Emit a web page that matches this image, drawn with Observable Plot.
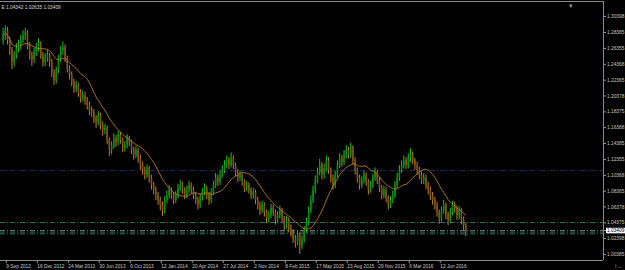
<!DOCTYPE html>
<html><head><meta charset="utf-8">
<script src="https://cdn.jsdelivr.net/npm/d3@7"></script>
<script src="https://cdn.jsdelivr.net/npm/@observablehq/plot@0.6"></script>
<style>html,body{margin:0;padding:0;background:#000;overflow:hidden}#chart{position:relative;width:625px;height:270px}</style>
</head><body><div id="chart"></div>
<script>
// Weekly bars, index 0 = week of 2 Sep 2012
const opens = [1.274,1.280,1.286,1.274,1.261,1.246,1.255,1.264,1.267,1.274,1.280,1.283,1.267,1.255,1.249,1.259,1.264,1.269,1.255,1.246,
1.251,1.255,1.246,1.233,1.223,1.236,1.251,1.261,1.265,1.251,1.238,1.230,1.221,1.213,1.217,1.208,1.201,1.204,1.198,1.192,
1.185,1.183,1.175,1.170,1.179,1.167,1.160,1.163,1.148,1.135,1.141,1.150,1.145,1.154,1.148,1.138,1.141,1.150,1.145,1.135,
1.129,1.135,1.125,1.116,1.110,1.104,1.112,1.100,1.091,1.085,1.078,1.072,1.066,1.059,1.072,1.078,1.085,1.078,1.072,1.078,
1.087,1.091,1.085,1.078,1.085,1.091,1.085,1.078,1.072,1.066,1.075,1.082,1.087,1.078,1.072,1.082,1.091,1.100,1.095,1.104,
1.110,1.116,1.122,1.116,1.125,1.116,1.107,1.100,1.104,1.095,1.087,1.091,1.085,1.078,1.082,1.072,1.066,1.059,1.066,1.057,
1.049,1.053,1.062,1.057,1.047,1.053,1.059,1.049,1.040,1.047,1.037,1.032,1.024,1.019,1.028,1.015,1.022,1.034,1.044,1.059,
1.072,1.085,1.097,1.107,1.116,1.104,1.112,1.122,1.110,1.100,1.091,1.104,1.116,1.125,1.120,1.129,1.135,1.129,1.138,1.122,
1.110,1.100,1.091,1.097,1.104,1.095,1.085,1.091,1.100,1.107,1.097,1.087,1.078,1.085,1.075,1.066,1.072,1.078,1.091,1.100,
1.110,1.116,1.122,1.116,1.125,1.129,1.122,1.116,1.110,1.104,1.097,1.100,1.091,1.085,1.078,1.072,1.066,1.057,1.049,1.059,
1.066,1.053,1.047,1.057,1.066,1.062,1.053,1.059,1.047,1.040];
const highs = [1.289,1.292,1.290,1.278,1.265,1.260,1.270,1.274,1.280,1.286,1.289,1.286,1.271,1.259,1.264,1.270,1.276,1.272,1.259,1.257,
1.261,1.258,1.250,1.237,1.240,1.255,1.266,1.272,1.268,1.254,1.242,1.234,1.225,1.222,1.220,1.212,1.210,1.208,1.202,1.196,
1.190,1.187,1.179,1.184,1.182,1.171,1.168,1.166,1.151,1.146,1.156,1.154,1.159,1.158,1.151,1.146,1.155,1.153,1.148,1.139,
1.140,1.138,1.129,1.120,1.114,1.117,1.115,1.104,1.095,1.089,1.082,1.076,1.070,1.077,1.084,1.091,1.088,1.082,1.083,1.092,
1.097,1.095,1.088,1.090,1.096,1.094,1.089,1.082,1.076,1.080,1.087,1.093,1.090,1.082,1.087,1.096,1.106,1.104,1.110,1.116,
1.122,1.128,1.126,1.132,1.128,1.119,1.111,1.109,1.107,1.098,1.096,1.094,1.088,1.087,1.085,1.076,1.070,1.071,1.069,1.060,
1.058,1.067,1.066,1.060,1.058,1.065,1.062,1.052,1.052,1.050,1.041,1.035,1.028,1.033,1.031,1.027,1.039,1.050,1.064,1.078,
1.090,1.103,1.113,1.124,1.120,1.118,1.128,1.126,1.113,1.104,1.109,1.122,1.131,1.129,1.135,1.141,1.139,1.144,1.141,1.126,
1.113,1.104,1.102,1.109,1.107,1.098,1.096,1.105,1.113,1.110,1.100,1.091,1.090,1.088,1.078,1.077,1.084,1.096,1.106,1.116,
1.122,1.128,1.126,1.131,1.137,1.133,1.125,1.120,1.114,1.108,1.106,1.104,1.095,1.089,1.082,1.076,1.070,1.060,1.064,1.072,
1.069,1.057,1.062,1.071,1.070,1.065,1.064,1.062,1.051,1.04342];
const lows = [1.268,1.274,1.268,1.255,1.237,1.240,1.250,1.258,1.262,1.270,1.274,1.262,1.249,1.241,1.245,1.254,1.259,1.250,1.240,1.241,
1.246,1.240,1.227,1.217,1.219,1.232,1.246,1.255,1.246,1.233,1.224,1.215,1.207,1.208,1.202,1.195,1.196,1.192,1.186,1.179,
1.177,1.169,1.163,1.166,1.161,1.153,1.155,1.142,1.128,1.130,1.137,1.139,1.141,1.143,1.132,1.133,1.137,1.140,1.130,1.123,
1.125,1.119,1.110,1.104,1.098,1.100,1.094,1.085,1.079,1.072,1.066,1.059,1.052,1.055,1.068,1.074,1.073,1.067,1.068,1.074,
1.083,1.080,1.073,1.074,1.081,1.080,1.073,1.067,1.060,1.062,1.071,1.078,1.073,1.066,1.068,1.078,1.087,1.090,1.091,1.100,
1.106,1.112,1.111,1.113,1.111,1.102,1.095,1.096,1.090,1.082,1.083,1.080,1.073,1.074,1.067,1.060,1.053,1.055,1.051,1.043,
1.044,1.049,1.052,1.041,1.043,1.049,1.044,1.034,1.036,1.031,1.026,1.018,1.012,1.015,1.004,1.010,1.018,1.030,1.040,1.055,
1.068,1.080,1.093,1.103,1.098,1.099,1.108,1.105,1.094,1.085,1.087,1.100,1.112,1.114,1.116,1.125,1.124,1.125,1.117,1.104,
1.094,1.085,1.087,1.093,1.090,1.079,1.081,1.087,1.096,1.092,1.082,1.073,1.074,1.069,1.060,1.062,1.068,1.074,1.087,1.096,
1.106,1.112,1.111,1.112,1.120,1.117,1.110,1.104,1.098,1.092,1.092,1.086,1.079,1.072,1.066,1.060,1.051,1.042,1.045,1.055,
1.048,1.040,1.043,1.053,1.056,1.047,1.048,1.041,1.034,1.02635];
const closes = [1.280,1.286,1.274,1.261,1.246,1.255,1.264,1.267,1.274,1.280,1.283,1.267,1.255,1.249,1.259,1.264,1.269,1.255,1.246,1.251,
1.255,1.246,1.233,1.223,1.236,1.251,1.261,1.265,1.251,1.238,1.230,1.221,1.213,1.217,1.208,1.201,1.204,1.198,1.192,1.185,
1.183,1.175,1.170,1.179,1.167,1.160,1.163,1.148,1.135,1.141,1.150,1.145,1.154,1.148,1.138,1.141,1.150,1.145,1.135,1.129,
1.135,1.125,1.116,1.110,1.104,1.112,1.100,1.091,1.085,1.078,1.072,1.066,1.059,1.072,1.078,1.085,1.078,1.072,1.078,1.087,
1.091,1.085,1.078,1.085,1.091,1.085,1.078,1.072,1.066,1.075,1.082,1.087,1.078,1.072,1.082,1.091,1.100,1.095,1.104,1.110,
1.116,1.122,1.116,1.125,1.116,1.107,1.100,1.104,1.095,1.087,1.091,1.085,1.078,1.082,1.072,1.066,1.059,1.066,1.057,1.049,
1.053,1.062,1.057,1.047,1.053,1.059,1.049,1.040,1.047,1.037,1.032,1.024,1.019,1.028,1.015,1.022,1.034,1.044,1.059,1.072,
1.085,1.097,1.107,1.116,1.104,1.112,1.122,1.110,1.100,1.091,1.104,1.116,1.125,1.120,1.129,1.135,1.129,1.138,1.122,1.110,
1.100,1.091,1.097,1.104,1.095,1.085,1.091,1.100,1.107,1.097,1.087,1.078,1.085,1.075,1.066,1.072,1.078,1.091,1.100,1.110,
1.116,1.122,1.116,1.125,1.129,1.122,1.116,1.110,1.104,1.097,1.100,1.091,1.085,1.078,1.072,1.066,1.057,1.049,1.059,1.066,
1.053,1.047,1.057,1.066,1.062,1.053,1.059,1.047,1.040,1.03409];

const xTickBars = [1,15,29,43,57,71,85,99,113,127,141,155,169,183,197];
const xTickLabels = ["9 Sep 2012","16 Dec 2012","24 Mar 2013","30 Jun 2013","6 Oct 2013","12 Jan 2014","20 Apr 2014","27 Jul 2014","2 Nov 2014","8 Feb 2015","17 May 2015","23 Aug 2015","29 Nov 2015","6 Mar 2016","12 Jun 2016"];
const yTickValues = [1.30398,1.28385,1.26355,1.24368,1.22365,1.20378,1.18375,1.16388,1.14385,1.12355,1.10368,1.08365,1.06378,1.04375,1.02398,1.00385];
const levelPrices = [1.1098,1.0442,1.0341,1.0322,1.0300];
const levelColors = ["#1c2a66","#1f7a5a","#6a7070","#2a6a6a","#1f7a5a"];
const headerText = "E 1.04342 1.02635 1.03409";
const maPeriod = 14;

const bars = closes.map((c,i)=>({i, open:opens[i], high:highs[i], low:lows[i], close:c}));
const upBars = bars.filter(d=>d.close>=d.open);
const downBars = bars.filter(d=>d.close<d.open);
const levels = levelPrices.map((p,i)=>({p, c:levelColors[i]}));
const lastClose = closes[closes.length-1];
const fmt = d3.format(".5f");

const W=625, H=270, mT=1, mB=10, mR=22, mL=0;
const pxPerBar = 2.214, firstBarX = 2.6;
const xDomain = [(0-firstBarX)/pxPerBar, (W-mR-firstBarX)/pxPerBar];
const pricePerPx = (1.30398-1.00385)/238;
const yDomain = [1.00385-(H-mB-254)*pricePerPx, 1.30398+(16-mT)*pricePerPx];
const font = "'Liberation Sans', Arial, sans-serif";
const fs = 4.8;

const plot = Plot.plot({
  width: W, height: H, marginTop: mT, marginBottom: mB, marginLeft: mL, marginRight: mR,
  style: {background:"#000", color:"#c8c8c8", fontFamily: font, fontSize: fs+"px"},
  x: {type:"linear", domain: xDomain, axis:null},
  y: {domain: yDomain, axis:null},
  marks: [
    ...levels.map(l => Plot.ruleY([l.p], {stroke:l.c, strokeWidth:1, strokeDasharray:"5,2,1,2"})),
    Plot.ruleX(upBars, {x:"i", y1:"low", y2:"high", stroke:"#1fc01f", strokeWidth:1}),
    Plot.ruleX(upBars, {x:"i", y1:"open", y2:"close", stroke:"#0d8a0d", strokeWidth:1.6}),
    Plot.ruleX(downBars, {x:"i", y1:"low", y2:"high", stroke:"#c0801e", strokeWidth:1}),
    Plot.ruleX(downBars, {x:"i", y1:"open", y2:"close", stroke:"#7a5418", strokeWidth:1.6}),
    Plot.lineY(bars, Plot.windowY({k:maPeriod, anchor:"end"}, {x:"i", y:"close", stroke:"#a8701c", strokeWidth:1})),
    Plot.axisY({anchor:"right", ticks:[...yTickValues, lastClose], tickFormat:fmt, tickSize:2, tickPadding:1.5, stroke:"#9a9a9a", fill:"#c8c8c8", fontSize:fs, fontFamily:font}),
    Plot.axisX({anchor:"bottom", ticks:xTickBars, tickFormat:(d)=>xTickLabels[xTickBars.indexOf(d)], tickSize:3, tickPadding:1.5, textAnchor:"start", dx:1, stroke:"#9a9a9a", fill:"#c8c8c8", fontSize:fs, fontFamily:font}),
    Plot.text([headerText], {frameAnchor:"top-left", dx:1, dy:4, fill:"#d8d8d8", fontSize:fs, fontFamily:font, text:d=>d}),
    Plot.text(["\u25BE"], {frameAnchor:"top-right", dx:-31, dy:2, fill:"#9a9a9a", fontSize:7, text:d=>d}),
    Plot.ruleX([xDomain[1]], {stroke:"#8a8a8a"}),
    Plot.ruleY([yDomain[0]], {stroke:"#8a8a8a"}),
    Plot.ruleY([yDomain[1]], {stroke:"#8a8a8a"})
  ]
});
document.getElementById("chart").appendChild(plot);
// white box behind the current-price label on the price axis
const curLabel = fmt(lastClose);
plot.querySelectorAll("text").forEach(t => {
  if (t.textContent.trim() !== curLabel) return;
  const b = t.getBBox();
  const r = document.createElementNS("http://www.w3.org/2000/svg","rect");
  r.setAttribute("x", b.x-1); r.setAttribute("y", b.y-0.3);
  r.setAttribute("width", b.width+2.5); r.setAttribute("height", b.height+0.6);
  r.setAttribute("fill", "#fff");
  if (t.getAttribute("transform")) r.setAttribute("transform", t.getAttribute("transform"));
  t.setAttribute("fill", "#000");
  t.parentNode.insertBefore(r, t);
});
</script>
</body></html>
